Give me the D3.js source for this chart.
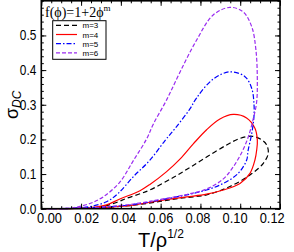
<!DOCTYPE html>
<html><head><meta charset="utf-8">
<script src="https://cdn.jsdelivr.net/npm/d3@7"></script>
<style>body{margin:0;background:#fff}svg{display:block}</style>
</head><body><div id="chart"></div>
<script>
// ---- data (T/rho^1/2, sigma_DC) ----
const seriesNames = ["m=3", "m=4", "m=5", "m=6"];
const m3 = [[0,0],[0.0143,0.0003],[0.0294,0.005],[0.0378,0.018],[0.0429,0.030],[0.0496,0.043],[0.0546,0.054],[0.0663,0.090],[0.0747,0.119],[0.0831,0.149],[0.0932,0.184],[0.0999,0.203],[0.1060,0.209],[0.1110,0.198],[0.1133,0.184],[0.1141,0.160],[0.1116,0.131],[0.1049,0.097],[0.0948,0.064],[0.0831,0.040],[0.0697,0.030],[0.0596,0.021],[0.0462,0.010],[0.0294,0.003],[0.0143,0.0003],[0,0]];
const m4 = [[0,0],[0.0143,0.0006],[0.0244,0.003],[0.0328,0.011],[0.0395,0.028],[0.0496,0.052],[0.0546,0.070],[0.0630,0.107],[0.0697,0.143],[0.0764,0.187],[0.0831,0.228],[0.0898,0.259],[0.0965,0.272],[0.1032,0.262],[0.1074,0.232],[0.1086,0.198],[0.1083,0.170],[0.1074,0.1405],[0.1049,0.102],[0.0999,0.073],[0.0915,0.054],[0.0831,0.042],[0.0731,0.034],[0.0596,0.0235],[0.0462,0.0105],[0.0294,0.003],[0.0143,0.0004],[0,0]];
const m5 = [[0,0],[0.0143,0.001],[0.0244,0.006],[0.0328,0.020],[0.0386,0.044],[0.0462,0.092],[0.0546,0.140],[0.0621,0.196],[0.0680,0.237],[0.0747,0.288],[0.0781,0.320],[0.0864,0.374],[0.0948,0.395],[0.1024,0.381],[0.1058,0.347],[0.1069,0.304],[0.1069,0.265],[0.1058,0.2175],[0.1040,0.169],[0.1032,0.140],[0.0990,0.102],[0.0915,0.073],[0.0831,0.054],[0.0731,0.040],[0.0596,0.025],[0.0462,0.012],[0.0294,0.0035],[0.0143,0.0006],[0,0]];
const m6 = [[0,0],[0.0093,0.0006],[0.0160,0.0026],[0.0244,0.015],[0.0311,0.034],[0.0395,0.077],[0.0462,0.138],[0.0529,0.201],[0.0563,0.244],[0.0630,0.314],[0.0697,0.394],[0.0781,0.487],[0.0864,0.559],[0.0948,0.581],[0.1015,0.568],[0.1058,0.525],[0.1079,0.458],[0.1086,0.371],[0.1082,0.305],[0.1064,0.256],[0.1041,0.208],[0.1010,0.165],[0.0964,0.120],[0.0915,0.086],[0.0831,0.057],[0.0731,0.041],[0.0596,0.0265],[0.0462,0.0136],[0.0294,0.004],[0.0143,0.0006],[0,0]];
const seriesData = [m3, m4, m5, m6];
const xTicks = [0, 0.02, 0.04, 0.06, 0.08, 0.10, 0.12];
const xTickLabels = ["0.00","0.02","0.04","0.06","0.08","0.10","0.12"];
const yTicks = [0, 0.1, 0.2, 0.3, 0.4, 0.5];
const yTickLabels = ["0.0","0.1","0.2","0.3","0.4","0.5"];

// ---- styles ----
const colors = ["#000000", "#ff0000", "#0000ff", "#9a2cf0"];
const dashes = ["5,3", null, "5,2,1.5,2", "4,2"];

const W = 294, H = 252;
const L = 41.3, R = 280, T0 = 0.8, B = 208.7;
const svg = d3.select("#chart").append("svg").attr("width", W).attr("height", H);
const x = d3.scaleLinear().domain([0, 0.12]).range([L, R]);
const y = d3.scaleLinear().domain([0, 0.6]).range([B, T0]);
// tick labels in the original sit slightly compressed toward the centre
const xLab = d3.scaleLinear().domain([0, 0.12]).range([49, 271.7]);
const font = "Liberation Sans, Arial, sans-serif";

// curves
const line = d3.line().x(d => x(d[0])).y(d => y(d[1])).curve(d3.curveCatmullRom.alpha(0.5));
const g = svg.append("g");
seriesData.forEach((s, i) => {
  g.append("path").attr("d", line(s)).attr("fill", "none")
    .attr("stroke", colors[i]).attr("stroke-width", 1.2)
    .attr("stroke-dasharray", dashes[i]);
});

// axes with inward ticks on all four sides
const xMinor = d3.range(0, 0.1201, 0.005);
const yMinor = d3.range(0, 0.6001, 0.02);
function addAxis(axisGen, tr) {
  const a = svg.append("g").attr("transform", tr).call(axisGen);
  a.select(".domain").remove();
  a.selectAll("line").attr("stroke", "#000").attr("stroke-width", 1);
  return a;
}
addAxis(d3.axisBottom(x).tickValues(xMinor).tickSize(-2.5).tickFormat(""), `translate(0,${B})`);
addAxis(d3.axisTop(x).tickValues(xMinor).tickSize(-2.5).tickFormat(""), `translate(0,${T0})`);
addAxis(d3.axisLeft(y).tickValues(yMinor).tickSize(-2.5).tickFormat(""), `translate(${L},0)`);
addAxis(d3.axisRight(y).tickValues(yMinor).tickSize(-2.5).tickFormat(""), `translate(${R},0)`);
const xb = addAxis(d3.axisBottom(x).tickValues(xTicks).tickSize(-5).tickPadding(4)
  .tickFormat((d, i) => xTickLabels[i]), `translate(0,${B})`);
addAxis(d3.axisTop(x).tickValues(xTicks).tickSize(-5).tickFormat(""), `translate(0,${T0})`);
const yl = addAxis(d3.axisLeft(y).tickValues(yTicks).tickSize(-5).tickPadding(5)
  .tickFormat((d, i) => yTickLabels[i]), `translate(${L},0)`);
addAxis(d3.axisRight(y).tickValues(yTicks).tickSize(-5).tickFormat(""), `translate(${R},0)`);
[xb, yl].forEach(a => a.selectAll("text").attr("font-family", font).attr("font-size", 14)
  .attr("fill", "#000").attr("transform", null));
xb.selectAll("text").attr("textLength", 25).attr("lengthAdjust", "spacingAndGlyphs")
  .attr("x", d => xLab(d) - x(d));
yl.selectAll("text").attr("textLength", 16.5).attr("lengthAdjust", "spacingAndGlyphs");

// frame
svg.append("rect").attr("x", L).attr("y", T0).attr("width", R - L).attr("height", B - T0)
  .attr("fill", "none").attr("stroke", "#000").attr("stroke-width", 1.6);

// axis titles
const xt = svg.append("text").attr("x", 138).attr("y", 247)
  .attr("font-family", font).attr("font-size", 20).attr("fill", "#000");
xt.append("tspan").text("T/ρ");
xt.append("tspan").attr("font-size", 12).attr("dy", -9).text("1/2");

const yt = svg.append("text").attr("transform", "translate(18,119) rotate(-90)")
  .attr("font-family", font).attr("font-size", 18).attr("fill", "#000");
yt.append("tspan").text("σ");
yt.append("tspan").attr("font-size", 12).attr("font-style", "italic").attr("dy", 3).text("DC");

// legend
svg.append("text").attr("x", 45).attr("y", 17).attr("font-family", "Liberation Serif, Times New Roman, serif")
  .attr("font-size", 14).attr("fill", "#000")
  .call(t => { t.append("tspan").text("f(ϕ)=1+2ϕ"); t.append("tspan").attr("font-size", 9).attr("dy", -6).text("m"); });
svg.append("rect").attr("x", 52.7).attr("y", 20.7).attr("width", 53.3).attr("height", 38.6)
  .attr("fill", "#fff").attr("stroke", "#000").attr("stroke-width", 1);
seriesNames.forEach((nm, i) => {
  const yy = 25.3 + i * 9.2;
  svg.append("line").attr("x1", 56).attr("x2", 77).attr("y1", yy).attr("y2", yy)
    .attr("stroke", colors[i]).attr("stroke-width", 1.2).attr("stroke-dasharray", dashes[i]);
  svg.append("text").attr("x", 82.5).attr("y", yy + 3).attr("font-family", font)
    .attr("font-size", 8).attr("fill", "#000").text(nm);
});
</script></body></html>
